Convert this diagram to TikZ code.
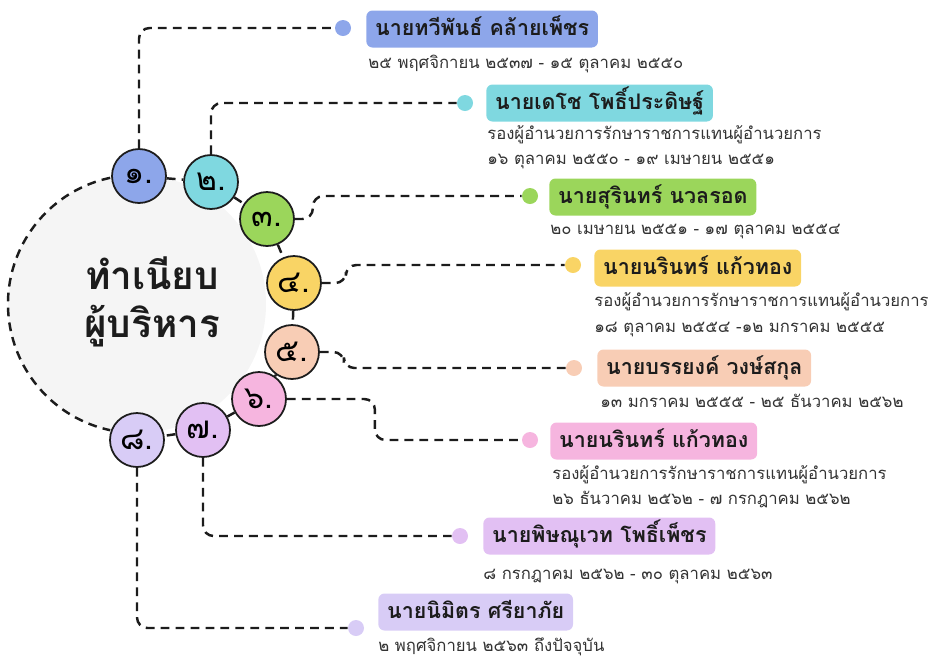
\documentclass[tikz,border=0pt]{standalone}
\usepackage{fontspec}
\setmainfont[Script=Thai]{Loma}
\usetikzlibrary{positioning,backgrounds}

\definecolor{cone}{HTML}{8DA6EA}
\definecolor{ctwo}{HTML}{7FD8E0}
\definecolor{cthree}{HTML}{9BD65B}
\definecolor{cfour}{HTML}{F9D465}
\definecolor{cfive}{HTML}{F8CDB5}
\definecolor{csix}{HTML}{F6B5DF}
\definecolor{cseven}{HTML}{E2C0F3}
\definecolor{ceight}{HTML}{D8CCF6}
\definecolor{hubgray}{HTML}{F5F5F5}
\definecolor{ink}{HTML}{1C1C1C}

\tikzset{
  numcirc/.style={circle,draw=ink,line width=1pt,minimum size=1.08cm,inner sep=0pt,
    font=\fontsize{18}{20}\selectfont},
  dot/.style={circle,minimum size=0.32cm,inner sep=0pt},
  namebox/.style={rounded corners=3.5pt,anchor=west,minimum height=0.74cm,inner xsep=5pt,
    text height=10pt,text depth=3pt,text=ink,font=\fontsize{12.2}{14}\selectfont\bfseries},
  datetext/.style={anchor=base west,inner sep=0pt,text=ink!90,font=\fontsize{9.5}{11}\selectfont},
  link/.style={dashed,dash pattern=on 5pt off 3.5pt,line width=1.4pt,draw=ink,rounded corners=6pt}
}

\begin{document}
\begin{tikzpicture}[x=0.02cm,y=-0.02cm]
  \useasboundingbox (0,0) rectangle (939,657);

  % hub
  \coordinate (hub) at (137,304);
  \node[align=center,font=\fontsize{22}{27}\selectfont\bfseries,text=ink] (title) at (152,302)
    {ทำเนียบ\\ผู้บริหาร};

  % numbered circles
  \node[numcirc,fill=cone]   (n1) at (139,176) {๑.};
  \node[numcirc,fill=ctwo]   (n2) at (211,182) {๒.};
  \node[numcirc,fill=cthree] (n3) at (267,219) {๓.};
  \node[numcirc,fill=cfour]  (n4) at (294,283) {๔.};
  \node[numcirc,fill=cfive]  (n5) at (292,352) {๕.};
  \node[numcirc,fill=csix]   (n6) at (259,399) {๖.};
  \node[numcirc,fill=cseven] (n7) at (203,430) {๗.};
  \node[numcirc,fill=ceight] (n8) at (137,440) {๘.};

  % dots
  \node[dot,fill=cone]   (d1) at (343,28) {};
  \node[dot,fill=ctwo]   (d2) at (465,103) {};
  \node[dot,fill=cthree] (d3) at (530,196) {};
  \node[dot,fill=cfour]  (d4) at (573,265) {};
  \node[dot,fill=cfive]  (d5) at (574,368) {};
  \node[dot,fill=csix]   (d6) at (530,440) {};
  \node[dot,fill=cseven] (d7) at (460,536) {};
  \node[dot,fill=ceight] (d8) at (356,628) {};

  % names
  \node[namebox,fill=cone]   (b1) at (366,29)  {นายทวีพันธ์ คล้ายเพ็ชร};
  \node[namebox,fill=ctwo]   (b2) at (486,103) {นายเดโช โพธิ์ประดิษฐ์};
  \node[namebox,fill=cthree] (b3) at (549,197) {นายสุรินทร์ นวลรอด};
  \node[namebox,fill=cfour]  (b4) at (594,268) {นายนรินทร์ แก้วทอง};
  \node[namebox,fill=cfive]  (b5) at (597,368) {นายบรรยงค์ วงษ์สกุล};
  \node[namebox,fill=csix]   (b6) at (550,441) {นายนรินทร์ แก้วทอง};
  \node[namebox,fill=cseven] (b7) at (483,536) {นายพิษณุเวท โพธิ์เพ็ชร};
  \node[namebox,fill=ceight] (b8) at (378,612) {นายนิมิตร ศรียาภัย};

  % terms
  \node[datetext] (t1)  at (368,68)  {๒๕ พฤศจิกายน ๒๕๓๗ - ๑๕ ตุลาคม ๒๕๕๐};
  \node[datetext] (t2a) at (487,139) {รองผู้อำนวยการรักษาราชการแทนผู้อำนวยการ};
  \node[datetext] (t2b) at (487,164) {๑๖ ตุลาคม ๒๕๕๐ - ๑๙ เมษายน ๒๕๕๑};
  \node[datetext] (t3)  at (550,234) {๒๐ เมษายน ๒๕๕๑ - ๑๗ ตุลาคม ๒๕๕๔};
  \node[datetext] (t4a) at (594,306) {รองผู้อำนวยการรักษาราชการแทนผู้อำนวยการ};
  \node[datetext] (t4b) at (594,332) {๑๘ ตุลาคม ๒๕๕๔ -๑๒ มกราคม ๒๕๕๕};
  \node[datetext] (t5)  at (600,407) {๑๓ มกราคม ๒๕๕๕ - ๒๕ ธันวาคม ๒๕๖๒};
  \node[datetext] (t6a) at (552,479) {รองผู้อำนวยการรักษาราชการแทนผู้อำนวยการ};
  \node[datetext] (t6b) at (552,504) {๒๖ ธันวาคม ๒๕๖๒ - ๗ กรกฎาคม ๒๕๖๒};
  \node[datetext] (t7)  at (483,579) {๘ กรกฎาคม ๒๕๖๒ - ๓๐ ตุลาคม ๒๕๖๓};
  \node[datetext] (t8)  at (378,651) {๒ พฤศจิกายน ๒๕๖๓ ถึงปัจจุบัน};

  \begin{scope}[on background layer]
    \fill[hubgray] (hub) circle[radius=129];
    \draw[link] (hub) ++(258:129) arc[start angle=258,end angle=102,radius=129];
  \end{scope}

  \begin{scope}[link]
    \draw (n1) to (n2);
    \draw (n2) to (n3);
    \draw (n3) to (n4);
    \draw (n4) to (n5);
    \draw (n5) to (n6);
    \draw (n6) to (n7);
    \draw (n7) to (n8);
    \draw (n1.north) |- (d1);
    \draw (n2.north) |- (d2);
    \draw (n3.east) -- ++(18,0) |- (d3);
    \draw (n4.east) -- ++(24,0) |- (d4);
    \draw (n5.east) -- ++(24,0) |- (d5);
    \draw (n6.east) -- ++(88,0) |- (d6);
    \draw (n7.south) |- (d7);
    \draw (n8.south) |- (d8);
  \end{scope}
\end{tikzpicture}
\end{document}
